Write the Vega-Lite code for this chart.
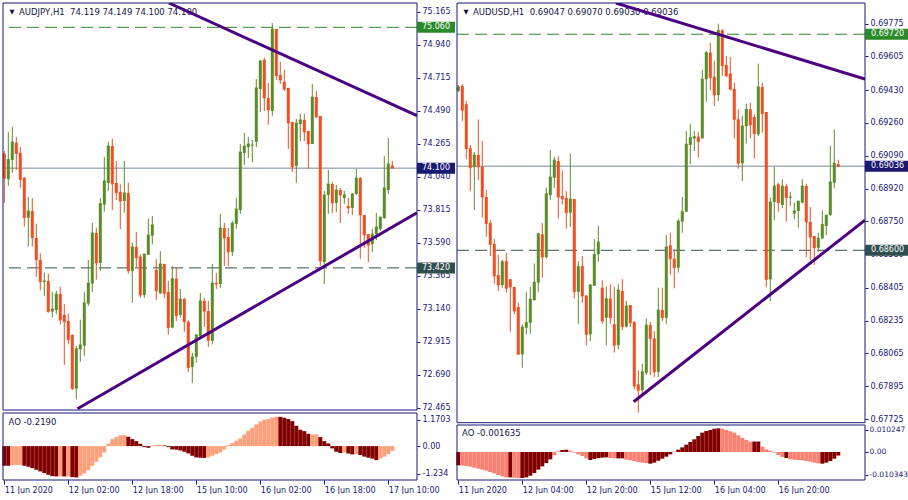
{
"$schema": "https://vega.github.io/schema/vega-lite/v6.json",
"padding": {"left": 2, "top": 2, "right": 0, "bottom": 0},
"background": "white",
"bounds": "flush",
"spacing": 40,
"config": {
  "view": {"stroke": null},
  "scale": {"continuousPadding": 0},
  "axis": {"labelFont": "DejaVu Sans", "labelFontSize": 8, "labelColor": "#17177a", "tickColor": "#17177a", "domain": false, "grid": false, "labelOverlap": false, "labelFlush": false},
  "text": {"font": "DejaVu Sans"}
},
"datasets": {
  "L": [
    {"i":0,"o":74.199,"h":74.217,"l":73.864,"c":74.031},{"i":1,"o":74.025,"h":74.347,"l":73.979,"c":74.160},{"i":2,"o":74.156,"h":74.381,"l":74.069,"c":74.279},{"i":3,"o":74.274,"h":74.313,"l":74.088,"c":74.199},{"i":4,"o":74.204,"h":74.244,"l":73.967,"c":74.022},{"i":5,"o":74.035,"h":74.040,"l":73.701,"c":73.762},{"i":6,"o":73.762,"h":73.904,"l":73.565,"c":73.808},{"i":7,"o":73.808,"h":73.895,"l":73.565,"c":73.626},{"i":8,"o":73.624,"h":73.722,"l":73.360,"c":73.476},{"i":9,"o":73.474,"h":73.520,"l":73.267,"c":73.326},
    {"i":10,"o":73.326,"h":73.388,"l":73.229,"c":73.331},{"i":11,"o":73.331,"h":73.381,"l":73.115,"c":73.122},{"i":12,"o":73.122,"h":73.256,"l":73.081,"c":73.140},{"i":13,"o":73.133,"h":73.263,"l":73.104,"c":73.242},{"i":14,"o":73.242,"h":73.290,"l":73.035,"c":73.065},{"i":15,"o":73.099,"h":73.172,"l":72.758,"c":73.053},{"i":16,"o":73.058,"h":73.108,"l":72.899,"c":72.931},{"i":17,"o":72.963,"h":72.967,"l":72.588,"c":72.597},{"i":18,"o":72.597,"h":72.888,"l":72.524,"c":72.870},{"i":19,"o":72.865,"h":73.067,"l":72.781,"c":72.895},
    {"i":20,"o":72.890,"h":73.256,"l":72.820,"c":73.181},{"i":21,"o":73.177,"h":73.474,"l":73.161,"c":73.317},{"i":22,"o":73.313,"h":73.728,"l":73.256,"c":73.658},{"i":23,"o":73.658,"h":73.694,"l":73.340,"c":73.454},{"i":24,"o":73.454,"h":73.895,"l":73.399,"c":73.858},{"i":25,"o":73.851,"h":74.176,"l":73.803,"c":74.013},{"i":26,"o":73.999,"h":74.279,"l":73.945,"c":74.251},{"i":27,"o":74.251,"h":74.301,"l":73.815,"c":73.994},{"i":28,"o":73.999,"h":74.149,"l":73.883,"c":73.933},{"i":29,"o":73.938,"h":73.990,"l":73.683,"c":73.876},
    {"i":30,"o":73.876,"h":74.149,"l":73.797,"c":73.931},{"i":31,"o":73.931,"h":74.001,"l":73.381,"c":73.401},{"i":32,"o":73.399,"h":73.592,"l":73.183,"c":73.563},{"i":33,"o":73.563,"h":73.665,"l":73.422,"c":73.488},{"i":34,"o":73.497,"h":73.513,"l":73.217,"c":73.235},{"i":35,"o":73.235,"h":73.515,"l":73.217,"c":73.515},{"i":36,"o":73.510,"h":73.756,"l":73.510,"c":73.645},{"i":37,"o":73.640,"h":73.774,"l":73.581,"c":73.713},{"i":38,"o":73.406,"h":73.479,"l":73.201,"c":73.263},{"i":39,"o":73.247,"h":73.535,"l":73.240,"c":73.447},
    {"i":40,"o":73.447,"h":73.447,"l":73.213,"c":73.247},{"i":41,"o":73.256,"h":73.331,"l":72.965,"c":73.013},{"i":42,"o":73.013,"h":73.433,"l":73.008,"c":73.347},{"i":43,"o":73.347,"h":73.426,"l":73.058,"c":73.094},{"i":44,"o":73.099,"h":73.276,"l":73.081,"c":73.208},{"i":45,"o":73.208,"h":73.217,"l":72.985,"c":73.053},{"i":46,"o":73.053,"h":73.063,"l":72.710,"c":72.740},{"i":47,"o":72.745,"h":72.842,"l":72.635,"c":72.813},{"i":48,"o":72.813,"h":72.967,"l":72.774,"c":72.963},{"i":49,"o":72.956,"h":73.249,"l":72.949,"c":73.195},
    {"i":50,"o":73.195,"h":73.213,"l":73.017,"c":73.125},{"i":51,"o":73.126,"h":73.195,"l":72.881,"c":72.927},{"i":52,"o":72.922,"h":73.447,"l":72.901,"c":73.317},{"i":53,"o":73.317,"h":73.385,"l":73.276,"c":73.310},{"i":54,"o":73.310,"h":73.788,"l":73.283,"c":73.692},{"i":55,"o":73.692,"h":73.726,"l":73.433,"c":73.624},{"i":56,"o":73.631,"h":73.692,"l":73.433,"c":73.529},{"i":57,"o":73.529,"h":73.740,"l":73.501,"c":73.726},{"i":58,"o":73.720,"h":73.897,"l":73.686,"c":73.822},{"i":59,"o":73.815,"h":74.265,"l":73.788,"c":74.210},
    {"i":60,"o":74.204,"h":74.340,"l":74.122,"c":74.251},{"i":61,"o":74.244,"h":74.313,"l":74.170,"c":74.265},{"i":62,"o":74.255,"h":74.292,"l":74.142,"c":74.258},{"i":63,"o":74.279,"h":74.708,"l":74.244,"c":74.647},{"i":64,"o":74.640,"h":74.838,"l":74.483,"c":74.831},{"i":65,"o":74.838,"h":74.851,"l":74.490,"c":74.579},{"i":66,"o":74.579,"h":74.681,"l":74.395,"c":74.497},{"i":67,"o":74.490,"h":75.090,"l":74.456,"c":75.049},{"i":68,"o":75.049,"h":75.049,"l":74.701,"c":74.729},{"i":69,"o":74.735,"h":74.824,"l":74.674,"c":74.701},
    {"i":70,"o":74.688,"h":74.770,"l":74.626,"c":74.640},{"i":71,"o":74.647,"h":74.647,"l":74.231,"c":74.408},{"i":72,"o":74.415,"h":74.415,"l":74.074,"c":74.108},{"i":73,"o":74.115,"h":74.435,"l":74.000,"c":74.408},{"i":74,"o":74.401,"h":74.470,"l":74.285,"c":74.429},{"i":75,"o":74.429,"h":74.470,"l":74.285,"c":74.347},{"i":76,"o":74.354,"h":74.354,"l":74.095,"c":74.265},{"i":77,"o":74.265,"h":74.674,"l":74.265,"c":74.585},{"i":78,"o":74.585,"h":74.626,"l":74.442,"c":74.449},{"i":79,"o":74.456,"h":74.456,"l":73.433,"c":73.467},
    {"i":80,"o":73.460,"h":73.945,"l":73.310,"c":73.917},{"i":81,"o":73.917,"h":74.088,"l":73.788,"c":73.992},{"i":82,"o":73.992,"h":74.006,"l":73.795,"c":73.863},{"i":83,"o":73.863,"h":73.985,"l":73.801,"c":73.951},{"i":84,"o":73.951,"h":73.965,"l":73.726,"c":73.917},{"i":85,"o":73.897,"h":73.945,"l":73.856,"c":73.917},{"i":86,"o":73.842,"h":73.897,"l":73.788,"c":73.829},{"i":87,"o":73.829,"h":73.931,"l":73.781,"c":73.924},{"i":88,"o":73.924,"h":74.095,"l":73.917,"c":74.033},{"i":89,"o":74.033,"h":74.040,"l":73.481,"c":73.781},
    {"i":90,"o":73.781,"h":73.781,"l":73.556,"c":73.645},{"i":91,"o":73.651,"h":73.651,"l":73.460,"c":73.576},{"i":92,"o":73.583,"h":73.686,"l":73.529,"c":73.651},{"i":93,"o":73.651,"h":73.795,"l":73.610,"c":73.699},{"i":94,"o":73.686,"h":73.767,"l":73.672,"c":73.767},{"i":95,"o":73.760,"h":74.183,"l":73.754,"c":73.965},{"i":96,"o":73.951,"h":74.306,"l":73.924,"c":74.129},{"i":97,"o":74.119,"h":74.149,"l":74.100,"c":74.100}
  ],
  "R": [
    {"i":0,"o":0.69426,"h":0.69457,"l":0.69421,"c":0.69447},{"i":1,"o":0.69452,"h":0.69461,"l":0.69270,"c":0.69326},{"i":2,"o":0.69357,"h":0.69374,"l":0.69072,"c":0.69127},{"i":3,"o":0.69129,"h":0.69146,"l":0.68907,"c":0.69028},{"i":4,"o":0.69033,"h":0.69110,"l":0.68809,"c":0.69094},{"i":5,"o":0.69094,"h":0.69279,"l":0.68964,"c":0.69033},{"i":6,"o":0.69033,"h":0.69167,"l":0.68769,"c":0.68876},{"i":7,"o":0.68876,"h":0.68913,"l":0.68670,"c":0.68738},{"i":8,"o":0.68741,"h":0.68757,"l":0.68570,"c":0.68631},{"i":9,"o":0.68633,"h":0.68658,"l":0.68427,"c":0.68467},
    {"i":10,"o":0.68472,"h":0.68576,"l":0.68389,"c":0.68420},{"i":11,"o":0.68420,"h":0.68550,"l":0.68406,"c":0.68541},{"i":12,"o":0.68544,"h":0.68587,"l":0.68380,"c":0.68403},{"i":13,"o":0.68450,"h":0.68450,"l":0.68178,"c":0.68410},{"i":14,"o":0.68410,"h":0.68410,"l":0.68268,"c":0.68285},{"i":15,"o":0.68306,"h":0.68328,"l":0.68061,"c":0.68061},{"i":16,"o":0.68061,"h":0.68216,"l":0.67991,"c":0.68202},{"i":17,"o":0.68198,"h":0.68384,"l":0.68164,"c":0.68226},{"i":18,"o":0.68224,"h":0.68411,"l":0.68167,"c":0.68347},{"i":19,"o":0.68342,"h":0.68532,"l":0.68337,"c":0.68435},
    {"i":20,"o":0.68432,"h":0.68691,"l":0.68385,"c":0.68686},{"i":21,"o":0.68683,"h":0.68741,"l":0.68458,"c":0.68565},{"i":22,"o":0.68565,"h":0.68925,"l":0.68556,"c":0.68893},{"i":23,"o":0.68886,"h":0.69120,"l":0.68861,"c":0.68980},{"i":24,"o":0.68976,"h":0.69084,"l":0.68924,"c":0.69068},{"i":25,"o":0.69063,"h":0.69089,"l":0.68764,"c":0.68876},{"i":26,"o":0.68881,"h":0.69015,"l":0.68838,"c":0.68867},{"i":27,"o":0.68871,"h":0.68907,"l":0.68712,"c":0.68795},{"i":28,"o":0.68795,"h":0.69101,"l":0.68721,"c":0.68866},{"i":29,"o":0.68866,"h":0.68866,"l":0.68349,"c":0.68385},
    {"i":30,"o":0.68385,"h":0.68544,"l":0.68219,"c":0.68515},{"i":31,"o":0.68518,"h":0.68570,"l":0.68328,"c":0.68363},{"i":32,"o":0.68366,"h":0.68366,"l":0.68107,"c":0.68164},{"i":33,"o":0.68164,"h":0.68424,"l":0.68129,"c":0.68420},{"i":34,"o":0.68416,"h":0.68658,"l":0.68416,"c":0.68579},{"i":35,"o":0.68579,"h":0.68726,"l":0.68541,"c":0.68643},{"i":36,"o":0.68406,"h":0.68444,"l":0.68219,"c":0.68233},{"i":37,"o":0.68250,"h":0.68410,"l":0.68107,"c":0.68349},{"i":38,"o":0.68349,"h":0.68424,"l":0.68219,"c":0.68250},{"i":39,"o":0.68216,"h":0.68410,"l":0.68069,"c":0.68108},
    {"i":40,"o":0.68108,"h":0.68424,"l":0.68086,"c":0.68394},{"i":41,"o":0.68389,"h":0.68450,"l":0.68187,"c":0.68204},{"i":42,"o":0.68204,"h":0.68337,"l":0.68199,"c":0.68311},{"i":43,"o":0.68316,"h":0.68316,"l":0.68202,"c":0.68224},{"i":44,"o":0.68228,"h":0.68233,"l":0.67879,"c":0.67896},{"i":45,"o":0.67905,"h":0.67977,"l":0.67758,"c":0.67874},{"i":46,"o":0.67874,"h":0.68012,"l":0.67853,"c":0.67970},{"i":47,"o":0.67965,"h":0.68247,"l":0.67953,"c":0.68212},{"i":48,"o":0.68212,"h":0.68228,"l":0.67953,"c":0.68143},{"i":49,"o":0.68143,"h":0.68181,"l":0.67943,"c":0.67970},
    {"i":50,"o":0.67970,"h":0.68406,"l":0.67943,"c":0.68290},{"i":51,"o":0.68290,"h":0.68406,"l":0.68233,"c":0.68250},{"i":52,"o":0.68250,"h":0.68679,"l":0.68219,"c":0.68617},{"i":53,"o":0.68626,"h":0.68691,"l":0.68472,"c":0.68556},{"i":54,"o":0.68556,"h":0.68605,"l":0.68403,"c":0.68510},{"i":55,"o":0.68510,"h":0.68761,"l":0.68484,"c":0.68752},{"i":56,"o":0.68748,"h":0.68876,"l":0.68691,"c":0.68800},{"i":57,"o":0.68800,"h":0.69218,"l":0.68800,"c":0.69150},{"i":58,"o":0.69146,"h":0.69256,"l":0.69046,"c":0.69184},{"i":59,"o":0.69180,"h":0.69218,"l":0.69115,"c":0.69189},
    {"i":60,"o":0.69189,"h":0.69213,"l":0.69080,"c":0.69163},{"i":61,"o":0.69180,"h":0.69535,"l":0.69180,"c":0.69487},{"i":62,"o":0.69487,"h":0.69633,"l":0.69370,"c":0.69625},{"i":63,"o":0.69625,"h":0.69676,"l":0.69430,"c":0.69495},{"i":64,"o":0.69499,"h":0.69582,"l":0.69348,"c":0.69405},{"i":65,"o":0.69405,"h":0.69775,"l":0.69374,"c":0.69741},{"i":66,"o":0.69741,"h":0.69746,"l":0.69504,"c":0.69556},{"i":67,"o":0.69561,"h":0.69607,"l":0.69499,"c":0.69504},{"i":68,"o":0.69516,"h":0.69602,"l":0.69430,"c":0.69435},{"i":69,"o":0.69436,"h":0.69469,"l":0.69180,"c":0.69279},
    {"i":70,"o":0.69279,"h":0.69331,"l":0.69023,"c":0.69051},{"i":71,"o":0.69051,"h":0.69296,"l":0.68959,"c":0.69244},{"i":72,"o":0.69244,"h":0.69360,"l":0.69153,"c":0.69331},{"i":73,"o":0.69331,"h":0.69365,"l":0.69180,"c":0.69250},{"i":74,"o":0.69291,"h":0.69305,"l":0.69077,"c":0.69204},{"i":75,"o":0.69201,"h":0.69568,"l":0.69193,"c":0.69447},{"i":76,"o":0.69447,"h":0.69469,"l":0.69210,"c":0.69308},{"i":77,"o":0.69317,"h":0.69317,"l":0.68409,"c":0.68449},{"i":78,"o":0.68449,"h":0.68873,"l":0.68337,"c":0.68850},{"i":79,"o":0.68850,"h":0.69033,"l":0.68755,"c":0.68933},
    {"i":80,"o":0.68942,"h":0.68950,"l":0.68800,"c":0.68847},{"i":81,"o":0.68835,"h":0.68968,"l":0.68818,"c":0.68933},{"i":82,"o":0.68933,"h":0.68945,"l":0.68748,"c":0.68873},{"i":83,"o":0.68873,"h":0.68902,"l":0.68830,"c":0.68876},{"i":84,"o":0.68790,"h":0.68847,"l":0.68761,"c":0.68804},{"i":85,"o":0.68804,"h":0.68855,"l":0.68717,"c":0.68855},{"i":86,"o":0.68847,"h":0.68968,"l":0.68843,"c":0.68933},{"i":87,"o":0.68933,"h":0.68945,"l":0.68565,"c":0.68747},{"i":88,"o":0.68747,"h":0.68824,"l":0.68548,"c":0.68669},{"i":89,"o":0.68674,"h":0.68674,"l":0.68524,"c":0.68613},
    {"i":90,"o":0.68613,"h":0.68691,"l":0.68593,"c":0.68662},{"i":91,"o":0.68662,"h":0.68807,"l":0.68657,"c":0.68734},{"i":92,"o":0.68726,"h":0.68783,"l":0.68679,"c":0.68783},{"i":93,"o":0.68783,"h":0.69141,"l":0.68778,"c":0.68954},{"i":94,"o":0.68950,"h":0.69227,"l":0.68921,"c":0.69051},{"i":95,"o":0.69047,"h":0.69070,"l":0.69030,"c":0.69036}
  ],
  "LA": [
    {"i":0,"v":-0.880,"k":"dk"},{"i":1,"v":-0.880,"k":"dk"},{"i":2,"v":-0.851,"k":"lt"},{"i":3,"v":-0.851,"k":"lt"},{"i":4,"v":-0.851,"k":"lt"},{"i":5,"v":-0.880,"k":"dk"},{"i":6,"v":-0.925,"k":"dk"},{"i":7,"v":-0.985,"k":"dk"},{"i":8,"v":-1.060,"k":"dk"},{"i":9,"v":-1.134,"k":"dk"},
    {"i":10,"v":-1.209,"k":"dk"},{"i":11,"v":-1.283,"k":"dk"},{"i":12,"v":-1.343,"k":"dk"},{"i":13,"v":-1.358,"k":"dk"},{"i":14,"v":-1.355,"k":"lt"},{"i":15,"v":-1.360,"k":"dk"},{"i":16,"v":-1.355,"k":"lt"},{"i":17,"v":-1.388,"k":"dk"},{"i":18,"v":-1.403,"k":"dk"},{"i":19,"v":-1.328,"k":"lt"},
    {"i":20,"v":-1.224,"k":"lt"},{"i":21,"v":-1.074,"k":"lt"},{"i":22,"v":-0.880,"k":"lt"},{"i":23,"v":-0.701,"k":"lt"},{"i":24,"v":-0.507,"k":"lt"},{"i":25,"v":-0.284,"k":"lt"},{"i":26,"v":0.104,"k":"lt"},{"i":27,"v":0.313,"k":"lt"},{"i":28,"v":0.403,"k":"lt"},{"i":29,"v":0.480,"k":"lt"},
    {"i":30,"v":0.492,"k":"lt"},{"i":31,"v":0.418,"k":"dk"},{"i":32,"v":0.313,"k":"dk"},{"i":33,"v":0.224,"k":"dk"},{"i":34,"v":0.104,"k":"dk"},{"i":35,"v":-0.045,"k":"dk"},{"i":36,"v":-0.075,"k":"dk"},{"i":37,"v":0.030,"k":"lt"},{"i":38,"v":0.045,"k":"lt"},{"i":39,"v":0.048,"k":"lt"},
    {"i":40,"v":0.030,"k":"dk"},{"i":41,"v":-0.045,"k":"dk"},{"i":42,"v":-0.149,"k":"dk"},{"i":43,"v":-0.160,"k":"dk"},{"i":44,"v":-0.194,"k":"dk"},{"i":45,"v":-0.254,"k":"dk"},{"i":46,"v":-0.328,"k":"dk"},{"i":47,"v":-0.433,"k":"dk"},{"i":48,"v":-0.507,"k":"dk"},{"i":49,"v":-0.522,"k":"dk"},
    {"i":50,"v":-0.530,"k":"dk"},{"i":51,"v":-0.507,"k":"lt"},{"i":52,"v":-0.433,"k":"lt"},{"i":53,"v":-0.358,"k":"lt"},{"i":54,"v":-0.284,"k":"lt"},{"i":55,"v":-0.149,"k":"lt"},{"i":56,"v":0.045,"k":"lt"},{"i":57,"v":0.134,"k":"lt"},{"i":58,"v":0.239,"k":"lt"},{"i":59,"v":0.343,"k":"lt"},
    {"i":60,"v":0.522,"k":"lt"},{"i":61,"v":0.686,"k":"lt"},{"i":62,"v":0.821,"k":"lt"},{"i":63,"v":0.970,"k":"lt"},{"i":64,"v":1.104,"k":"lt"},{"i":65,"v":1.179,"k":"lt"},{"i":66,"v":1.209,"k":"lt"},{"i":67,"v":1.283,"k":"lt"},{"i":68,"v":1.313,"k":"lt"},{"i":69,"v":1.310,"k":"dk"},
    {"i":70,"v":1.268,"k":"dk"},{"i":71,"v":1.209,"k":"dk"},{"i":72,"v":1.119,"k":"dk"},{"i":73,"v":0.910,"k":"dk"},{"i":74,"v":0.731,"k":"dk"},{"i":75,"v":0.672,"k":"dk"},{"i":76,"v":0.552,"k":"dk"},{"i":77,"v":0.522,"k":"lt"},{"i":78,"v":0.525,"k":"lt"},{"i":79,"v":0.403,"k":"dk"},
    {"i":80,"v":0.224,"k":"dk"},{"i":81,"v":0.119,"k":"dk"},{"i":82,"v":-0.104,"k":"dk"},{"i":83,"v":-0.254,"k":"dk"},{"i":84,"v":-0.313,"k":"dk"},{"i":85,"v":-0.284,"k":"lt"},{"i":86,"v":-0.330,"k":"dk"},{"i":87,"v":-0.370,"k":"dk"},{"i":88,"v":-0.360,"k":"lt"},{"i":89,"v":-0.400,"k":"dk"},
    {"i":90,"v":-0.470,"k":"dk"},{"i":91,"v":-0.520,"k":"dk"},{"i":92,"v":-0.560,"k":"dk"},{"i":93,"v":-0.627,"k":"dk"},{"i":94,"v":-0.560,"k":"lt"},{"i":95,"v":-0.470,"k":"lt"},{"i":96,"v":-0.360,"k":"lt"},{"i":97,"v":-0.219,"k":"lt"}
  ],
  "RA": [
    {"i":0,"v":-0.00610,"k":"dk"},{"i":1,"v":-0.00615,"k":"lt"},{"i":2,"v":-0.00641,"k":"lt"},{"i":3,"v":-0.00671,"k":"lt"},{"i":4,"v":-0.00717,"k":"lt"},{"i":5,"v":-0.00763,"k":"lt"},{"i":6,"v":-0.00808,"k":"lt"},{"i":7,"v":-0.00854,"k":"lt"},{"i":8,"v":-0.00915,"k":"lt"},{"i":9,"v":-0.00976,"k":"lt"},
    {"i":10,"v":-0.01052,"k":"lt"},{"i":11,"v":-0.01113,"k":"lt"},{"i":12,"v":-0.01165,"k":"lt"},{"i":13,"v":-0.01160,"k":"dk"},{"i":14,"v":-0.01175,"k":"lt"},{"i":15,"v":-0.01190,"k":"lt"},{"i":16,"v":-0.01185,"k":"dk"},{"i":17,"v":-0.01159,"k":"dk"},{"i":18,"v":-0.01083,"k":"dk"},{"i":19,"v":-0.00961,"k":"dk"},
    {"i":20,"v":-0.00808,"k":"dk"},{"i":21,"v":-0.00656,"k":"dk"},{"i":22,"v":-0.00503,"k":"dk"},{"i":23,"v":-0.00336,"k":"dk"},{"i":24,"v":-0.00153,"k":"lt"},{"i":25,"v":0.00031,"k":"lt"},{"i":26,"v":0.00092,"k":"dk"},{"i":27,"v":0.00107,"k":"dk"},{"i":28,"v":0.00061,"k":"lt"},{"i":29,"v":-0.00031,"k":"lt"},
    {"i":30,"v":-0.00107,"k":"lt"},{"i":31,"v":-0.00183,"k":"lt"},{"i":32,"v":-0.00290,"k":"lt"},{"i":33,"v":-0.00366,"k":"dk"},{"i":34,"v":-0.00320,"k":"dk"},{"i":35,"v":-0.00275,"k":"dk"},{"i":36,"v":-0.00259,"k":"dk"},{"i":37,"v":-0.00244,"k":"dk"},{"i":38,"v":-0.00275,"k":"lt"},{"i":39,"v":-0.00290,"k":"lt"},
    {"i":40,"v":-0.00290,"k":"dk"},{"i":41,"v":-0.00290,"k":"dk"},{"i":42,"v":-0.00351,"k":"lt"},{"i":43,"v":-0.00381,"k":"lt"},{"i":44,"v":-0.00412,"k":"lt"},{"i":45,"v":-0.00458,"k":"lt"},{"i":46,"v":-0.00488,"k":"lt"},{"i":47,"v":-0.00503,"k":"lt"},{"i":48,"v":-0.00534,"k":"dk"},{"i":49,"v":-0.00488,"k":"dk"},
    {"i":50,"v":-0.00397,"k":"dk"},{"i":51,"v":-0.00305,"k":"dk"},{"i":52,"v":-0.00214,"k":"dk"},{"i":53,"v":-0.00107,"k":"dk"},{"i":54,"v":0.00010,"k":"dk"},{"i":55,"v":0.00107,"k":"dk"},{"i":56,"v":0.00214,"k":"dk"},{"i":57,"v":0.00336,"k":"dk"},{"i":58,"v":0.00458,"k":"dk"},{"i":59,"v":0.00580,"k":"dk"},
    {"i":60,"v":0.00732,"k":"dk"},{"i":61,"v":0.00885,"k":"dk"},{"i":62,"v":0.00961,"k":"dk"},{"i":63,"v":0.01007,"k":"dk"},{"i":64,"v":0.01068,"k":"dk"},{"i":65,"v":0.01083,"k":"dk"},{"i":66,"v":0.01068,"k":"lt"},{"i":67,"v":0.01007,"k":"lt"},{"i":68,"v":0.00946,"k":"lt"},{"i":69,"v":0.00885,"k":"lt"},
    {"i":70,"v":0.00763,"k":"lt"},{"i":71,"v":0.00641,"k":"lt"},{"i":72,"v":0.00549,"k":"lt"},{"i":73,"v":0.00473,"k":"lt"},{"i":74,"v":0.00478,"k":"dk"},{"i":75,"v":0.00480,"k":"dk"},{"i":76,"v":0.00244,"k":"lt"},{"i":77,"v":0.00122,"k":"lt"},{"i":78,"v":0.00061,"k":"lt"},{"i":79,"v":-0.00031,"k":"lt"},
    {"i":80,"v":-0.00137,"k":"lt"},{"i":81,"v":-0.00229,"k":"lt"},{"i":82,"v":-0.00275,"k":"dk"},{"i":83,"v":-0.00336,"k":"lt"},{"i":84,"v":-0.00351,"k":"lt"},{"i":85,"v":-0.00366,"k":"lt"},{"i":86,"v":-0.00381,"k":"lt"},{"i":87,"v":-0.00412,"k":"lt"},{"i":88,"v":-0.00442,"k":"lt"},{"i":89,"v":-0.00488,"k":"lt"},
    {"i":90,"v":-0.00519,"k":"lt"},{"i":91,"v":-0.00534,"k":"dk"},{"i":92,"v":-0.00488,"k":"dk"},{"i":93,"v":-0.00412,"k":"dk"},{"i":94,"v":-0.00305,"k":"dk"},{"i":95,"v":-0.001635,"k":"dk"}
  ],
  "Llev": [{"p":75.06,"s":"75.060","k":"r"},{"p":74.1,"s":"74.100","k":"c"},{"p":73.42,"s":"73.420","k":"s"}],
  "Rlev": [{"p":0.6972,"s":"0.69720","k":"r"},{"p":0.69036,"s":"0.69036","k":"c"},{"p":0.686,"s":"0.68600","k":"s"}],
  "Ltr": [{"g":"a","i":41.15,"p":75.226},{"g":"a","i":103.175,"p":74.458},{"g":"b","i":18.3,"p":72.46},{"g":"b","i":103.175,"p":73.795}],
  "Rtr": [{"g":"a","i":39.39,"p":0.69882},{"g":"a","i":101.675,"p":0.69487},{"g":"b","i":43.85,"p":0.678147},{"g":"b","i":101.675,"p":0.687564}]
},
"hconcat": [
  {
    "width": 414, "height": 477,
    "resolve": {"scale": {"y": "independent", "color": "independent", "fill": "independent", "stroke": "independent"}, "axis": {"y": "independent"}},
    "layer": [
      {
        "layer": [
          {"data": {"name": "Llev"}, "mark": {"type": "rule", "strokeWidth": 1},
           "encoding": {
             "y": {"field": "p", "type": "quantitative", "scale": {"domain": [72.451, 75.226], "range": [407, 0], "nice": false, "zero": false, "padding": 0},
                   "axis": {"orient": "right", "values": [75.165, 74.94, 74.715, 74.49, 74.265, 74.04, 73.815, 73.59, 73.365, 73.14, 72.915, 72.69, 72.465], "tickCount": 100, "format": ".3f", "tickSize": 3, "labelPadding": 2, "labelOverlap": false, "title": null}},
             "stroke": {"field": "k", "type": "nominal", "scale": {"domain": ["r", "c", "s"], "range": ["#2a8a2a", "#778899", "#2f4f4f"]}, "legend": null},
             "strokeDash": {"field": "k", "type": "nominal", "scale": {"domain": ["r", "c", "s"], "range": [[12, 6], [1, 0], [12, 6]]}, "legend": null}
           }},
          {"data": {"name": "L"}, "mark": {"type": "rule", "strokeWidth": 1},
           "encoding": {
             "x": {"field": "i", "type": "quantitative", "scale": {"domain": [-0.325, 103.175], "nice": false, "zero": false, "padding": 0}},
             "y": {"field": "l", "type": "quantitative", "scale": {"domain": [72.451, 75.226], "range": [407, 0], "nice": false, "zero": false, "padding": 0}},
             "y2": {"field": "h"},
             "color": {"condition": {"test": "datum.c >= datum.o", "value": "#5b8c2a"}, "value": "#f24e22"}
           }},
          {"data": {"name": "L"}, "mark": {"type": "bar", "size": 3},
           "encoding": {
             "x": {"field": "i", "type": "quantitative", "scale": {"domain": [-0.325, 103.175], "nice": false, "zero": false, "padding": 0}},
             "y": {"field": "o", "type": "quantitative", "scale": {"domain": [72.451, 75.226], "range": [407, 0], "nice": false, "zero": false, "padding": 0}},
             "y2": {"field": "c"},
             "color": {"condition": {"test": "datum.c >= datum.o", "value": "#5b8c2a"}, "value": "#f24e22"}
           }},
          {"data": {"name": "L"}, "mark": {"type": "tick", "orient": "horizontal", "size": 3, "thickness": 1},
           "encoding": {
             "x": {"field": "i", "type": "quantitative", "scale": {"domain": [-0.325, 103.175], "nice": false, "zero": false, "padding": 0}},
             "y": {"field": "c", "type": "quantitative", "scale": {"domain": [72.451, 75.226], "range": [407, 0], "nice": false, "zero": false, "padding": 0}},
             "color": {"condition": {"test": "datum.c >= datum.o", "value": "#5b8c2a"}, "value": "#f24e22"}
           }},
          {"data": {"values": [{}]}, "mark": {"type": "text", "align": "left", "baseline": "middle", "dx": 16, "dy": 9, "fontSize": 8.5, "color": "#14144a", "text": "AUDJPY,H1\u00a0 74.119 74.149 74.100 74.100"},
           "encoding": {
             "x": {"datum": -0.325, "type": "quantitative", "scale": {"domain": [-0.325, 103.175], "nice": false, "zero": false, "padding": 0}},
             "y": {"datum": 75.226, "type": "quantitative", "scale": {"domain": [72.451, 75.226], "range": [407, 0], "nice": false, "zero": false, "padding": 0}}
           }},
          {"data": {"values": [{}]}, "mark": {"type": "text", "align": "center", "baseline": "middle", "dx": 9, "dy": 9, "fontSize": 6.5, "color": "#14144a", "text": "▼"},
           "encoding": {
             "x": {"datum": -0.325, "type": "quantitative", "scale": {"domain": [-0.325, 103.175], "nice": false, "zero": false, "padding": 0}},
             "y": {"datum": 75.226, "type": "quantitative", "scale": {"domain": [72.451, 75.226], "range": [407, 0], "nice": false, "zero": false, "padding": 0}}
           }},
          {"data": {"name": "Ltr"}, "mark": {"type": "line", "color": "#4b0082", "strokeWidth": 3, "clip": true},
           "encoding": {
             "x": {"field": "i", "type": "quantitative", "scale": {"domain": [-0.325, 103.175], "nice": false, "zero": false, "padding": 0}},
             "y": {"field": "p", "type": "quantitative", "scale": {"domain": [72.451, 75.226], "range": [407, 0], "nice": false, "zero": false, "padding": 0}},
             "detail": {"field": "g"}
           }},
          {"data": {"values": [{}]}, "mark": {"type": "rect", "filled": false, "color": "#17177a", "strokeWidth": 1},
           "encoding": {
             "x": {"datum": -0.325, "type": "quantitative", "scale": {"domain": [-0.325, 103.175], "nice": false, "zero": false, "padding": 0}},
             "x2": {"datum": 103.175},
             "y": {"datum": 72.451, "type": "quantitative", "scale": {"domain": [72.451, 75.226], "range": [407, 0], "nice": false, "zero": false, "padding": 0}},
             "y2": {"datum": 75.226}
           }},
          {"data": {"name": "Llev"}, "mark": {"type": "bar", "orient": "horizontal", "size": 11},
           "encoding": {
             "x": {"datum": 103.175, "type": "quantitative", "scale": {"domain": [-0.325, 103.175], "nice": false, "zero": false, "padding": 0}},
             "x2": {"datum": 112.675},
             "y": {"field": "p", "type": "quantitative", "scale": {"domain": [72.451, 75.226], "range": [407, 0], "nice": false, "zero": false, "padding": 0}},
             "fill": {"field": "k", "type": "nominal", "scale": {"domain": ["r", "c", "s"], "range": ["#2a8a2a", "#191970", "#2f4f4f"]}, "legend": null}
           }},
          {"data": {"name": "Llev"}, "mark": {"type": "text", "align": "left", "baseline": "middle", "dx": 5, "fontSize": 8, "color": "white"},
           "encoding": {
             "x": {"datum": 103.175, "type": "quantitative", "scale": {"domain": [-0.325, 103.175], "nice": false, "zero": false, "padding": 0}},
             "y": {"field": "p", "type": "quantitative", "scale": {"domain": [72.451, 75.226], "range": [407, 0], "nice": false, "zero": false, "padding": 0}},
             "text": {"field": "s"}
           }}
        ]
      },
      {
        "layer": [
          {"data": {"name": "LA"}, "mark": {"type": "bar", "size": 4},
           "encoding": {
             "x": {"field": "i", "type": "quantitative", "scale": {"domain": [-0.325, 103.175], "nice": false, "zero": false, "padding": 0},
                   "axis": {"orient": "bottom", "values": [0, 16, 32, 48, 64, 80, 96], "tickCount": 100, "labelExpr": "datum.value == 0 ? '11 Jun 2020' : datum.value == 16 ? '12 Jun 02:00' : datum.value == 32 ? '12 Jun 18:00' : datum.value == 48 ? '15 Jun 10:00' : datum.value == 64 ? '16 Jun 02:00' : datum.value == 80 ? '16 Jun 18:00' : '17 Jun 10:00'", "labelAlign": "left", "tickSize": 4, "labelPadding": 2, "labelOverlap": false, "title": null}},
             "y": {"field": "v", "type": "quantitative", "scale": {"domain": [-1.518, 1.482], "range": [477, 410], "nice": false, "zero": false, "padding": 0},
                   "axis": {"orient": "right", "values": [1.1703, 0, -1.234], "tickCount": 100, "labelExpr": "datum.value == 0 ? '0.00' : (datum.value > 0 ? '1.1703' : '-1.234')", "tickSize": 3, "labelPadding": 2, "labelOverlap": false, "title": null}},
             "y2": {"datum": 0},
             "color": {"field": "k", "type": "nominal", "scale": {"domain": ["lt", "dk"], "range": ["#ffa07a", "#800000"]}, "legend": null}
           }},
          {"data": {"values": [{}]}, "mark": {"type": "text", "align": "left", "baseline": "middle", "dx": 5.5, "dy": 9, "fontSize": 8.5, "color": "#14144a", "text": "AO -0.2190"},
           "encoding": {
             "x": {"datum": -0.325, "type": "quantitative", "scale": {"domain": [-0.325, 103.175], "nice": false, "zero": false, "padding": 0}},
             "y": {"datum": 1.482, "type": "quantitative", "scale": {"domain": [-1.518, 1.482], "range": [477, 410], "nice": false, "zero": false, "padding": 0}}
           }},
          {"data": {"values": [{}]}, "mark": {"type": "rect", "filled": false, "color": "#17177a", "strokeWidth": 1},
           "encoding": {
             "x": {"datum": -0.325, "type": "quantitative", "scale": {"domain": [-0.325, 103.175], "nice": false, "zero": false, "padding": 0}},
             "x2": {"datum": 103.175},
             "y": {"datum": -1.518, "type": "quantitative", "scale": {"domain": [-1.518, 1.482], "range": [477, 410], "nice": false, "zero": false, "padding": 0}},
             "y2": {"datum": 1.482}
           }}
        ]
      }
    ]
  },
  {
    "width": 408, "height": 477,
    "resolve": {"scale": {"y": "independent", "color": "independent", "fill": "independent", "stroke": "independent"}, "axis": {"y": "independent"}},
    "layer": [
      {
        "layer": [
          {"data": {"name": "Rlev"}, "mark": {"type": "rule", "strokeWidth": 1},
           "encoding": {
             "y": {"field": "p", "type": "quantitative", "scale": {"domain": [0.67706, 0.69882], "range": [419.7, 0], "nice": false, "zero": false, "padding": 0},
                   "axis": {"orient": "right", "values": [0.69775, 0.69605, 0.6943, 0.6926, 0.6909, 0.6892, 0.6875, 0.6858, 0.68405, 0.68235, 0.68065, 0.67895, 0.67725], "tickCount": 100, "format": ".5f", "tickSize": 3, "labelPadding": 2, "labelOverlap": false, "title": null}},
             "stroke": {"field": "k", "type": "nominal", "scale": {"domain": ["r", "c", "s"], "range": ["#2a8a2a", "#778899", "#2f4f4f"]}, "legend": null},
             "strokeDash": {"field": "k", "type": "nominal", "scale": {"domain": ["r", "c", "s"], "range": [[12, 6], [1, 0], [12, 6]]}, "legend": null}
           }},
          {"data": {"name": "R"}, "mark": {"type": "rule", "strokeWidth": 1},
           "encoding": {
             "x": {"field": "i", "type": "quantitative", "scale": {"domain": [-0.325, 101.675], "nice": false, "zero": false, "padding": 0}},
             "y": {"field": "l", "type": "quantitative", "scale": {"domain": [0.67706, 0.69882], "range": [419.7, 0], "nice": false, "zero": false, "padding": 0}},
             "y2": {"field": "h"},
             "color": {"condition": {"test": "datum.c >= datum.o", "value": "#5b8c2a"}, "value": "#f24e22"}
           }},
          {"data": {"name": "R"}, "mark": {"type": "bar", "size": 3},
           "encoding": {
             "x": {"field": "i", "type": "quantitative", "scale": {"domain": [-0.325, 101.675], "nice": false, "zero": false, "padding": 0}},
             "y": {"field": "o", "type": "quantitative", "scale": {"domain": [0.67706, 0.69882], "range": [419.7, 0], "nice": false, "zero": false, "padding": 0}},
             "y2": {"field": "c"},
             "color": {"condition": {"test": "datum.c >= datum.o", "value": "#5b8c2a"}, "value": "#f24e22"}
           }},
          {"data": {"name": "R"}, "mark": {"type": "tick", "orient": "horizontal", "size": 3, "thickness": 1},
           "encoding": {
             "x": {"field": "i", "type": "quantitative", "scale": {"domain": [-0.325, 101.675], "nice": false, "zero": false, "padding": 0}},
             "y": {"field": "c", "type": "quantitative", "scale": {"domain": [0.67706, 0.69882], "range": [419.7, 0], "nice": false, "zero": false, "padding": 0}},
             "color": {"condition": {"test": "datum.c >= datum.o", "value": "#5b8c2a"}, "value": "#f24e22"}
           }},
          {"data": {"values": [{}]}, "mark": {"type": "text", "align": "left", "baseline": "middle", "dx": 16, "dy": 9, "fontSize": 8.5, "color": "#14144a", "text": "AUDUSD,H1\u00a0 0.69047 0.69070 0.69030 0.69036"},
           "encoding": {
             "x": {"datum": -0.325, "type": "quantitative", "scale": {"domain": [-0.325, 101.675], "nice": false, "zero": false, "padding": 0}},
             "y": {"datum": 0.69882, "type": "quantitative", "scale": {"domain": [0.67706, 0.69882], "range": [419.7, 0], "nice": false, "zero": false, "padding": 0}}
           }},
          {"data": {"values": [{}]}, "mark": {"type": "text", "align": "center", "baseline": "middle", "dx": 9, "dy": 9, "fontSize": 6.5, "color": "#14144a", "text": "▼"},
           "encoding": {
             "x": {"datum": -0.325, "type": "quantitative", "scale": {"domain": [-0.325, 101.675], "nice": false, "zero": false, "padding": 0}},
             "y": {"datum": 0.69882, "type": "quantitative", "scale": {"domain": [0.67706, 0.69882], "range": [419.7, 0], "nice": false, "zero": false, "padding": 0}}
           }},
          {"data": {"name": "Rtr"}, "mark": {"type": "line", "color": "#4b0082", "strokeWidth": 3, "clip": true},
           "encoding": {
             "x": {"field": "i", "type": "quantitative", "scale": {"domain": [-0.325, 101.675], "nice": false, "zero": false, "padding": 0}},
             "y": {"field": "p", "type": "quantitative", "scale": {"domain": [0.67706, 0.69882], "range": [419.7, 0], "nice": false, "zero": false, "padding": 0}},
             "detail": {"field": "g"}
           }},
          {"data": {"values": [{}]}, "mark": {"type": "rect", "filled": false, "color": "#17177a", "strokeWidth": 1},
           "encoding": {
             "x": {"datum": -0.325, "type": "quantitative", "scale": {"domain": [-0.325, 101.675], "nice": false, "zero": false, "padding": 0}},
             "x2": {"datum": 101.675},
             "y": {"datum": 0.67706, "type": "quantitative", "scale": {"domain": [0.67706, 0.69882], "range": [419.7, 0], "nice": false, "zero": false, "padding": 0}},
             "y2": {"datum": 0.69882}
           }},
          {"data": {"name": "Rlev"}, "mark": {"type": "bar", "orient": "horizontal", "size": 11},
           "encoding": {
             "x": {"datum": 101.675, "type": "quantitative", "scale": {"domain": [-0.325, 101.675], "nice": false, "zero": false, "padding": 0}},
             "x2": {"datum": 112.675},
             "y": {"field": "p", "type": "quantitative", "scale": {"domain": [0.67706, 0.69882], "range": [419.7, 0], "nice": false, "zero": false, "padding": 0}},
             "fill": {"field": "k", "type": "nominal", "scale": {"domain": ["r", "c", "s"], "range": ["#2a8a2a", "#191970", "#2f4f4f"]}, "legend": null}
           }},
          {"data": {"name": "Rlev"}, "mark": {"type": "text", "align": "left", "baseline": "middle", "dx": 6, "fontSize": 8, "color": "white"},
           "encoding": {
             "x": {"datum": 101.675, "type": "quantitative", "scale": {"domain": [-0.325, 101.675], "nice": false, "zero": false, "padding": 0}},
             "y": {"field": "p", "type": "quantitative", "scale": {"domain": [0.67706, 0.69882], "range": [419.7, 0], "nice": false, "zero": false, "padding": 0}},
             "text": {"field": "s"}
           }}
        ]
      },
      {
        "layer": [
          {"data": {"name": "RA"}, "mark": {"type": "bar", "size": 4},
           "encoding": {
             "x": {"field": "i", "type": "quantitative", "scale": {"domain": [-0.325, 101.675], "nice": false, "zero": false, "padding": 0},
                   "axis": {"orient": "bottom", "values": [0, 16, 32, 48, 64, 80], "tickCount": 100, "labelExpr": "datum.value == 0 ? '11 Jun 2020' : datum.value == 16 ? '12 Jun 04:00' : datum.value == 32 ? '12 Jun 20:00' : datum.value == 48 ? '15 Jun 12:00' : datum.value == 64 ? '16 Jun 04:00' : '16 Jun 20:00'", "labelAlign": "left", "tickSize": 4, "labelPadding": 2, "labelOverlap": false, "title": null}},
             "y": {"field": "v", "type": "quantitative", "scale": {"domain": [-0.01281, 0.01235], "range": [477, 422], "nice": false, "zero": false, "padding": 0},
                   "axis": {"orient": "right", "values": [0.010247, 0, -0.010343], "tickCount": 100, "labelExpr": "datum.value == 0 ? '0.00' : (datum.value > 0 ? '0.010247' : '-0.010343')", "tickSize": 3, "labelPadding": 1, "labelFontSize": 7.5, "labelOverlap": false, "title": null}},
             "y2": {"datum": 0},
             "color": {"field": "k", "type": "nominal", "scale": {"domain": ["lt", "dk"], "range": ["#fa8072", "#800000"]}, "legend": null}
           }},
          {"data": {"values": [{}]}, "mark": {"type": "text", "align": "left", "baseline": "middle", "dx": 5, "dy": 8, "fontSize": 8.5, "color": "#14144a", "text": "AO -0.001635"},
           "encoding": {
             "x": {"datum": -0.325, "type": "quantitative", "scale": {"domain": [-0.325, 101.675], "nice": false, "zero": false, "padding": 0}},
             "y": {"datum": 0.01235, "type": "quantitative", "scale": {"domain": [-0.01281, 0.01235], "range": [477, 422], "nice": false, "zero": false, "padding": 0}}
           }},
          {"data": {"values": [{}]}, "mark": {"type": "rect", "filled": false, "color": "#17177a", "strokeWidth": 1},
           "encoding": {
             "x": {"datum": -0.325, "type": "quantitative", "scale": {"domain": [-0.325, 101.675], "nice": false, "zero": false, "padding": 0}},
             "x2": {"datum": 101.675},
             "y": {"datum": -0.01281, "type": "quantitative", "scale": {"domain": [-0.01281, 0.01235], "range": [477, 422], "nice": false, "zero": false, "padding": 0}},
             "y2": {"datum": 0.01235}
           }}
        ]
      }
    ]
  }
]
}
